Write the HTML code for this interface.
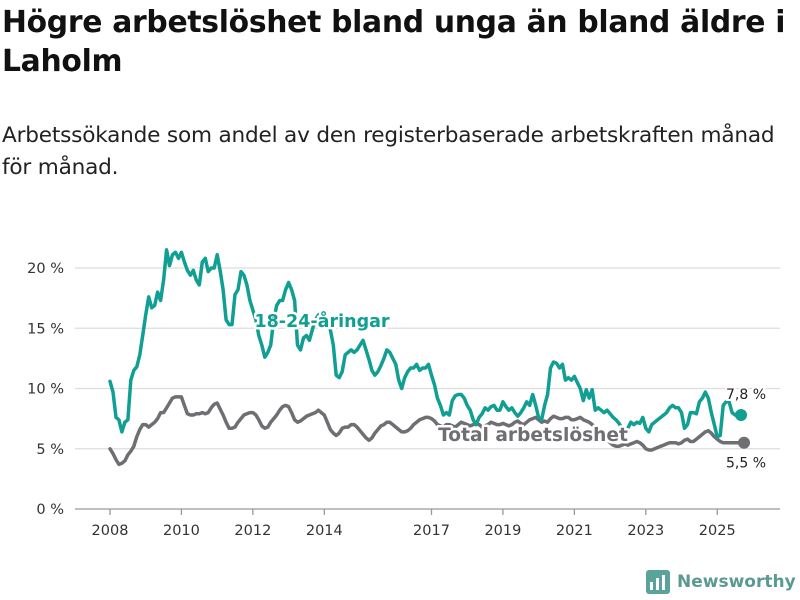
<!DOCTYPE html>
<html><head><meta charset="utf-8">
<style>
body{margin:0;width:800px;height:600px;background:#fff;font-family:"Liberation Sans","DejaVu Sans",sans-serif;overflow:hidden;position:relative;color:#111}
h1{position:absolute;left:2px;top:3px;margin:0;font-size:29.8px;line-height:39px;font-weight:bold;font-family:"DejaVu Sans","Liberation Sans",sans-serif;letter-spacing:-0.3px;color:#111;white-space:nowrap}
.sub{position:absolute;left:2px;top:120px;margin:0;font-size:21.6px;line-height:32px;font-family:"DejaVu Sans","Liberation Sans",sans-serif;color:#222;letter-spacing:-0.2px;white-space:nowrap}
svg{position:absolute;left:0;top:0}
.lbl{font-family:"DejaVu Sans","Liberation Sans",sans-serif}
</style></head><body>
<h1>Högre arbetslöshet bland unga än bland äldre i<br>Laholm</h1>
<p class="sub">Arbetssökande som andel av den registerbaserade arbetskraften månad<br>för månad.</p>
<svg id="chart" width="800" height="600"></svg>
<script>
const yTicks=[0,5,10,15,20];
const yTickLabels=["0 %","5 %","10 %","15 %","20 %"];
const xTicks=[2008,2010,2012,2014,2017,2019,2021,2023,2025];
const xTickLabels=["2008","2010","2012","2014","2017","2019","2021","2023","2025"];
const startYear=2008;
const youth=[10.6,9.7,7.6,7.4,6.4,7.2,7.4,10.7,11.5,11.8,
12.8,14.4,16.1,17.6,16.7,16.9,18.0,17.3,19.0,21.5,
20.2,21.1,21.3,20.8,21.3,20.5,19.8,19.4,19.8,19.0,
18.6,20.5,20.8,19.7,20.0,20.0,21.1,19.8,18.2,15.7,
15.3,15.3,17.8,18.2,19.7,19.4,18.6,17.3,16.5,15.7,
14.4,13.6,12.6,13.0,13.6,15.7,16.9,17.3,17.3,18.2,
18.8,18.2,17.3,13.6,13.2,14.2,14.4,14.0,14.9,15.7,
16.1,16.3,16.1,15.7,14.9,13.6,11.1,10.9,11.4,12.8,
13.0,13.2,13.0,13.2,13.6,14.0,13.2,12.4,11.5,11.1,
11.4,11.9,12.5,13.2,13.0,12.5,12.0,10.7,10.0,10.9,
11.4,11.7,11.7,12.0,11.5,11.7,11.7,12.0,11.1,10.3,
9.2,8.6,7.8,8.0,7.8,9.0,9.4,9.5,9.5,9.2,
8.6,8.2,7.4,7.0,7.6,7.9,8.4,8.2,8.5,8.6,
8.2,8.2,8.9,8.5,8.2,8.4,8.0,7.7,8.0,8.4,
8.9,8.6,9.5,8.6,7.6,7.4,8.6,9.5,11.7,12.2,
12.1,11.7,12.0,10.7,10.9,10.7,11.0,10.5,10.0,9.0,
9.9,9.2,9.9,8.2,8.4,8.2,8.0,8.2,7.9,7.6,
7.4,7.1,6.7,6.2,6.7,7.2,7.0,7.2,7.1,7.6,
6.7,6.4,7.0,7.2,7.4,7.6,7.8,8.0,8.4,8.6,
8.4,8.4,8.0,6.7,7.0,8.0,8.0,7.9,8.9,9.2,
9.7,9.2,8.0,7.0,6.0,6.1,8.6,8.9,8.9,8.0,
7.8,7.7,7.8];
const total=[5.0,4.6,4.1,3.7,3.8,4.0,4.5,4.8,5.2,6.0,6.6,7.0,
7.0,6.8,7.0,7.2,7.5,8.0,8.0,8.4,8.8,9.2,9.3,9.3,
9.3,8.6,7.9,7.8,7.8,7.9,7.9,8.0,7.9,8.0,8.4,8.7,
8.8,8.3,7.8,7.2,6.7,6.7,6.8,7.2,7.5,7.8,7.9,8.0,
8.0,7.8,7.4,6.9,6.7,6.8,7.2,7.5,7.8,8.2,8.5,8.6,
8.5,8.0,7.4,7.2,7.3,7.5,7.7,7.8,7.9,8.0,8.2,8.0,
7.8,7.2,6.6,6.3,6.1,6.3,6.7,6.8,6.8,7.0,7.0,6.8,
6.5,6.2,5.9,5.7,5.9,6.3,6.6,6.9,7.0,7.2,7.2,7.0,
6.8,6.6,6.4,6.4,6.5,6.7,7.0,7.2,7.4,7.5,7.6,7.6,
7.5,7.3,7.0,6.9,6.8,7.0,7.0,6.9,6.8,7.0,7.2,7.1,
7.0,6.9,7.0,7.1,7.0,6.8,6.9,7.0,7.2,7.1,7.0,7.0,
7.1,7.0,6.9,7.0,7.2,7.3,7.1,7.0,7.2,7.4,7.5,7.6,
7.4,7.2,7.3,7.2,7.5,7.7,7.6,7.5,7.5,7.6,7.6,7.4,
7.4,7.5,7.6,7.4,7.3,7.2,7.0,6.8,6.6,6.4,6.1,5.8,
5.5,5.3,5.2,5.2,5.3,5.4,5.3,5.4,5.5,5.6,5.5,5.3,
5.0,4.9,4.9,5.0,5.1,5.2,5.3,5.4,5.5,5.5,5.5,5.4,
5.5,5.7,5.8,5.6,5.6,5.8,6.0,6.2,6.4,6.5,6.3,6.0,
5.8,5.6,5.5,5.5,5.5,5.5,5.5,5.5,5.5,5.5];
const youthEndLabel="7,8 %", totalEndLabel="5,5 %";

const NS="http://www.w3.org/2000/svg";
const svg=document.getElementById('chart');
const x=yr=>110+(yr-2008)*35.72;
const y=v=>509-v*12.05;
const mx=i=>x(startYear+i/12);
function mk(tag,attrs,parent){const e=document.createElementNS(NS,tag);for(const k in attrs)e.setAttribute(k,attrs[k]);(parent||svg).appendChild(e);return e;}

yTicks.forEach((t,i)=>{
  const g=mk('line',{x1:75,x2:780,y1:y(t),y2:y(t),stroke:t===0?'#999':'#ddd','stroke-width':1.3});
  
  
  const tx=mk('text',{x:64,y:y(t)+5,'text-anchor':'end','font-size':14.5,fill:'#333',class:'lbl'});
  tx.textContent=yTickLabels[i];
  
  
});
xTicks.forEach((t,i)=>{
  const tk=mk('line',{x1:x(t),x2:x(t),y1:509,y2:515,stroke:'#999','stroke-width':1.3});
  
  
  const tx=mk('text',{x:x(t),y:535,'text-anchor':'middle','font-size':14.5,fill:'#333',class:'lbl'});
  tx.textContent=xTickLabels[i];
  
  
});
function line(data,color,name){
  const d=data.map((v,i)=>(i?'L':'M')+mx(i).toFixed(1)+','+y(v).toFixed(1)).join('');
  const p=mk('path',{d:d,fill:'none',stroke:color,'stroke-width':3.5,'stroke-linejoin':'round','stroke-linecap':'round'});
  
  
  const n=data.length-1;
  const c=mk('circle',{cx:mx(n),cy:y(data[n]),r:6,fill:color});
  
  
}
const TEAL='#109f92', GRAY='#6f6e72';
line(total,GRAY,'total-line');
line(youth,TEAL,'youth-line');
function label(txt,xx,yy,color,size,anchor,name){
  const t=mk('text',{x:xx,y:yy,'text-anchor':anchor,'font-size':size,'font-weight':'bold',fill:color,stroke:'#fff','stroke-width':5,'paint-order':'stroke','stroke-linejoin':'round',class:'lbl'});
  t.textContent=txt;
  
  
}
label('18-24-åringar',322,327,TEAL,17.5,'middle','youth-series-label');
label('Total arbetslöshet',533,441,GRAY,18.6,'middle','total-series-label');
const n=youth.length-1;
const e1=mk('text',{x:746,y:y(youth[n])-16,'text-anchor':'middle','font-size':14,fill:'#222',stroke:'#fff','stroke-width':4,'paint-order':'stroke',class:'lbl'});
e1.textContent=youthEndLabel;


const m=total.length-1;
const e2=mk('text',{x:746,y:y(total[m])+25,'text-anchor':'middle','font-size':14,fill:'#222',class:'lbl'});
e2.textContent=totalEndLabel;


</script>
<div style="position:absolute;left:646px;top:570px;display:flex;align-items:center;gap:7px">
 <svg width="24" height="24" style="position:static"><rect x="0" y="0" width="24" height="24" rx="3" fill="#5aa39a"/><rect x="4" y="12" width="3" height="8" fill="#fff"/><rect x="10" y="8" width="3" height="12" fill="#fff"/><rect x="16" y="5" width="3" height="15" fill="#fff"/></svg>
 <span style="font-family:'DejaVu Sans','Liberation Sans',sans-serif;font-weight:bold;font-size:17px;color:#5a9a92">Newsworthy</span>
</div>
</body></html>
